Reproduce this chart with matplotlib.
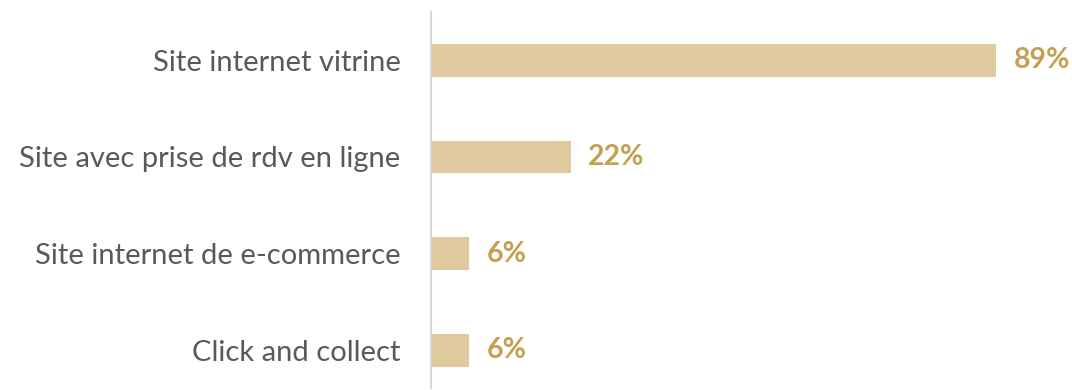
import numpy as np
import matplotlib.pyplot as plt

categories = ["Site internet vitrine", "Site avec prise de rdv en ligne",
              "Site internet de e-commerce", "Click and collect"]
values = [89, 22, 6, 6]

bar_color = "#DFCA9E"
label_color = "#C4A052"

plt.rcParams['font.family'] = ['Lato', 'DejaVu Sans']

fig = plt.figure(figsize=(10.72, 3.9), dpi=100)
ax = fig.add_axes([431 / 1072, 2 / 390, 635 / 1072, 376 / 390])

y = np.arange(len(categories))
ax.barh(y, values, height=0.34, color=bar_color)

for yi, v in zip(y, values):
    ax.annotate(f"{v}%", (v, yi), xytext=(12.5, 0), textcoords="offset points",
                ha="left", va="center", fontsize=20.5, fontweight="bold",
                color=label_color)

ax.set_xlim(0, 100)
ax.set_ylim(3.39, -0.5)
ax.set_yticks(y)
ax.set_yticklabels(categories, fontsize=21, color="#595959")
ax.tick_params(axis="y", length=0, pad=22)
ax.set_xticks([])

for side in ["top", "right", "bottom"]:
    ax.spines[side].set_visible(False)
ax.spines["left"].set_color("#D9D9D9")
ax.spines["left"].set_linewidth(1.5)

fig.savefig("out.png", dpi=100)
